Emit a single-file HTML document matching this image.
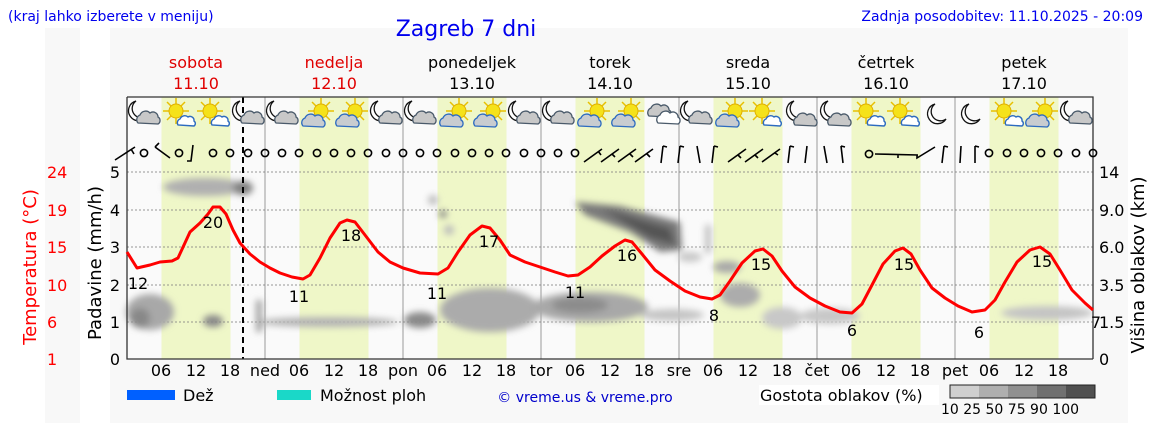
<!DOCTYPE html>
<html><head><meta charset="utf-8"><style>
html,body{margin:0;padding:0;background:#fff;}
svg{display:block;font-family:"DejaVu Sans","Liberation Sans",sans-serif;}
</style></head><body>
<svg width="1152" height="443" viewBox="0 0 1152 443" xmlns="http://www.w3.org/2000/svg">
<defs>
<filter id="bl" x="-30%" y="-60%" width="160%" height="220%"><feGaussianBlur stdDeviation="3.5"/></filter>
<g id="moon"><path d="M-3,-10 A10,10 0 1,0 8,5 A8,8 0 1,1 -3,-10 Z" fill="#fff" stroke="#111" stroke-width="1.3"/></g>
<g id="gcloud"><path d="M-10,5 a5,5 0 0,1 2,-8 a6,6 0 0,1 10,-2 a5,5 0 0,1 8,4 a4,4 0 0,1 0,7 z" fill="#c8c8c8" stroke="#4a5a6a" stroke-width="1.3"/></g>
<g id="wcloud"><path d="M-8,4 a4,4 0 0,1 2,-6 a5,5 0 0,1 8,-2 a4,4 0 0,1 6,4 a3,3 0 0,1 0,5 z" fill="#fff" stroke="#2d6bc0" stroke-width="1.4"/></g>
<g id="bcloud"><path d="M-10,5 a5,5 0 0,1 2,-8 a6,6 0 0,1 10,-2 a5,5 0 0,1 8,4 a4,4 0 0,1 0,7 z" fill="#c8ccd0" stroke="#2d6bc0" stroke-width="1.3"/></g>
<g id="sun"><g stroke="#e8c000" stroke-width="1.5"><line x1="-13" y1="0" x2="13" y2="0"/><line x1="0" y1="-13" x2="0" y2="13"/><line x1="-9" y1="-9" x2="9" y2="9"/><line x1="-9" y1="9" x2="9" y2="-9"/></g><circle r="7" fill="#f5e21a" stroke="#e0b000"/></g>
<g id="iM"><use href="#moon" x="-5" y="-3"/><use href="#gcloud" x="4" y="4"/></g>
<g id="iMs"><use href="#moon" x="-3" y="-3"/><use href="#gcloud" x="5" y="6"/></g>
<g id="iMo"><use href="#moon" x="0" y="0"/></g>
<g id="iS"><use href="#sun" x="-3" y="-3"/><use href="#wcloud" x="7" y="7"/></g>
<g id="iSC"><use href="#sun" x="4" y="-3"/><use href="#bcloud" x="-4" y="7"/></g>
<g id="iC"><use href="#gcloud" x="-3" y="-3"/><path d="M-8,9 a5,5 0 0,1 2,-8 a6,6 0 0,1 10,-2 a5,5 0 0,1 8,4 a4,4 0 0,1 0,7 z" fill="#fff" stroke="#4a5a6a" stroke-width="1.3" transform="translate(4,0)"/></g>
<circle id="wc" r="3.6" fill="none" stroke="#000" stroke-width="1.6"/>
</defs>

<rect x="45" y="28" width="35" height="395" fill="#f8f8f8"/>
<rect x="110" y="28" width="1018" height="395" fill="#f8f8f8"/>

<text x="8" y="21" font-size="14" fill="#0000ee">(kraj lahko izberete v meniju)</text>
<text x="466" y="36" font-size="22" fill="#0000ee" text-anchor="middle">Zagreb 7 dni</text>
<text x="1143" y="21" font-size="14" fill="#0000ee" text-anchor="end">Zadnja posodobitev: 11.10.2025 - 20:09</text>

<g font-size="16" text-anchor="middle">
<text x="196" y="68" fill="#e00000">sobota</text><text x="196" y="89" fill="#e00000">11.10</text>
<text x="334" y="68" fill="#e00000">nedelja</text><text x="334" y="89" fill="#e00000">12.10</text>
<text x="472" y="68">ponedeljek</text><text x="472" y="89">13.10</text>
<text x="610" y="68">torek</text><text x="610" y="89">14.10</text>
<text x="748" y="68">sreda</text><text x="748" y="89">15.10</text>
<text x="886" y="68">četrtek</text><text x="886" y="89">16.10</text>
<text x="1024" y="68">petek</text><text x="1024" y="89">17.10</text>
</g>

<rect x="127" y="97" width="966" height="262" fill="#fafafa"/>
<g fill="#eff7c8">
<rect x="161.5" y="97" width="69" height="262"/><rect x="299.5" y="97" width="69" height="262"/>
<rect x="437.5" y="97" width="69" height="262"/><rect x="575.5" y="97" width="69" height="262"/>
<rect x="713.5" y="97" width="69" height="262"/><rect x="851.5" y="97" width="69" height="262"/>
<rect x="989.5" y="97" width="69" height="262"/>
</g>
<g stroke="#999" stroke-width="1">
<line x1="265" y1="97" x2="265" y2="359"/><line x1="403" y1="97" x2="403" y2="359"/>
<line x1="541" y1="97" x2="541" y2="359"/><line x1="679" y1="97" x2="679" y2="359"/>
<line x1="817" y1="97" x2="817" y2="359"/><line x1="955" y1="97" x2="955" y2="359"/>
</g>
<g stroke="#777" stroke-width="0.8" stroke-dasharray="2,2">
<line x1="127" y1="172" x2="1093" y2="172"/><line x1="127" y1="210" x2="1093" y2="210"/>
<line x1="127" y1="247" x2="1093" y2="247"/><line x1="127" y1="285" x2="1093" y2="285"/>
<line x1="127" y1="322" x2="1093" y2="322"/>
</g>

<g filter="url(#bl)">
<ellipse cx="205" cy="187" rx="42" ry="9" fill="#b0b0b0"/>
<ellipse cx="243" cy="188" rx="10" ry="7" fill="#808080"/>
<ellipse cx="150" cy="312" rx="24" ry="18" fill="#a8a8a8"/>
<ellipse cx="140" cy="318" rx="10" ry="10" fill="#888"/>
<ellipse cx="213" cy="321" rx="10" ry="6" fill="#888"/>
<ellipse cx="328" cy="322" rx="70" ry="5" fill="#b4b4b4"/>
<rect x="256" y="300" width="6" height="32" fill="#a0a0a0"/>
<ellipse cx="420" cy="320" rx="16" ry="8" fill="#8a8a8a"/>
<ellipse cx="490" cy="310" rx="50" ry="22" fill="#ababab"/>
<ellipse cx="590" cy="307" rx="58" ry="15" fill="#a8a8a8"/>
<ellipse cx="580" cy="305" rx="28" ry="8" fill="#8c8c8c"/>
<ellipse cx="672" cy="315" rx="32" ry="6" fill="#c4c4c4"/>
<ellipse cx="433" cy="200" rx="5" ry="5" fill="#bbb"/>
<ellipse cx="443" cy="214" rx="4" ry="4" fill="#888"/>
<ellipse cx="449" cy="230" rx="5" ry="5" fill="#bbb"/>
<path d="M575,202 L620,206 L680,222 L682,250 L660,252 L630,232 L585,215 Z" fill="#7a7a7a"/>
<path d="M600,208 L670,228 L675,245 L650,238 Z" fill="#555"/>
<ellipse cx="690" cy="257" rx="12" ry="5" fill="#c8c8c8"/>
<rect x="705" y="225" width="6" height="28" fill="#c0c0c0"/>
<ellipse cx="727" cy="267" rx="14" ry="6" fill="#a8a8a8"/>
<ellipse cx="740" cy="295" rx="20" ry="12" fill="#acacac"/>
<ellipse cx="782" cy="318" rx="20" ry="11" fill="#c8c8c8"/>
<ellipse cx="830" cy="316" rx="30" ry="8" fill="#c8c8c8"/>
<ellipse cx="1047" cy="313" rx="46" ry="7" fill="#c4c4c4"/>
</g>
<line x1="243" y1="97" x2="243" y2="359" stroke="#000" stroke-width="2" stroke-dasharray="6,4"/>

<path d="M127,97 L1093,97 L1093,359 M127,97 L127,359 L1093,359" fill="none" stroke="#333" stroke-width="1.3"/>

<polyline fill="none" stroke="#f00" stroke-width="3" stroke-linejoin="round" points="127,252 137,268 150,265 160,262 172,261 178,258 190,232 200,223 208,214 213,207 220,207 226,214 233,230 240,243 250,254 260,262 270,268 280,273 292,277 303,279 310,275 320,258 330,238 340,223 347,220 355,222 365,235 378,252 390,262 403,268 420,273 438,274 448,268 458,252 470,235 482,226 490,228 500,240 510,255 525,262 540,267 555,272 568,276 578,275 590,267 602,256 615,246 625,240 632,242 642,254 655,270 670,281 685,291 700,297 712,299 720,295 730,281 742,263 755,251 763,249 772,256 782,271 795,287 810,298 825,306 840,312 852,313 862,304 872,285 883,264 895,251 903,248 911,254 920,270 932,288 945,298 958,306 972,312 985,310 995,300 1005,282 1017,262 1030,250 1040,247 1050,254 1060,270 1072,290 1085,303 1093,310"/>
<g font-size="16" fill="#000" text-anchor="middle">
<text x="138" y="289">12</text><text x="213" y="228">20</text><text x="299" y="302">11</text><text x="351" y="241">18</text>
<text x="437" y="299">11</text><text x="489" y="247">17</text><text x="575" y="298">11</text><text x="627" y="261">16</text>
<text x="714" y="321">8</text><text x="761" y="270">15</text><text x="852" y="336">6</text><text x="904" y="270">15</text>
<text x="979" y="338">6</text><text x="1042" y="267">15</text><text x="1096" y="328">7</text>
</g>

<use href="#iM" x="144" y="114"/><use href="#iS" x="179" y="114"/><use href="#iS" x="213" y="114"/><use href="#iM" x="248" y="114"/>
<use href="#iM" x="282" y="114"/><use href="#iSC" x="317" y="114"/><use href="#iSC" x="351" y="114"/><use href="#iM" x="386" y="114"/>
<use href="#iM" x="420" y="114"/><use href="#iSC" x="455" y="114"/><use href="#iSC" x="489" y="114"/><use href="#iM" x="524" y="114"/>
<use href="#iM" x="558" y="114"/><use href="#iSC" x="593" y="114"/><use href="#iSC" x="627" y="114"/><use href="#iC" x="662" y="114"/>
<use href="#iM" x="696" y="114"/><use href="#iSC" x="731" y="114"/><use href="#iS" x="765" y="114"/><use href="#iMs" x="800" y="114"/>
<use href="#iMs" x="834" y="114"/><use href="#iS" x="869" y="114"/><use href="#iS" x="903" y="114"/><use href="#iMo" x="938" y="114"/>
<use href="#iMo" x="972" y="114"/><use href="#iS" x="1007" y="114"/><use href="#iSC" x="1041" y="114"/><use href="#iM" x="1076" y="114"/>

<g stroke="#000" stroke-width="1.6" fill="none">
<path d="M115,160 L135,147 M131,149 L134,154"/>
<path d="M155,147 L170,158 M155,147 L159,143"/>
<path d="M193,145 L191,161 L187,161"/>
<path d="M584,162 L602,149 M598,151 L601,155"/><path d="M601,162 L619,149 M612,154 L615,157"/><path d="M618,162 L636,149 M630,154 L633,157"/><path d="M635,162 L653,149 M647,154 L650,157"/>
<path d="M663,146 L661,163 M663,146 L667,147"/><path d="M680,146 L678,163 M680,146 L684,147"/><path d="M697,146 L700,163"/><path d="M714,146 L712,163 M714,146 L718,147"/>
<path d="M728,162 L746,149 M738,155 L741,158"/><path d="M745,162 L763,149 M755,155 L758,158"/><path d="M762,162 L780,149 M775,153 L778,155"/>
<path d="M790,146 L788,163 M790,146 L794,147"/><path d="M807,146 L805,163"/><path d="M824,146 L827,163"/><path d="M841,146 L843,163 M841,146 L845,147"/>
<path d="M875,154 L918,155 M898,155 L898,158 M917,155 L917,158 L935,147"/>
<path d="M944,146 L942,163 M944,146 L948,147"/><path d="M961,146 L960,163"/><path d="M975,146 L975,163 M975,146 L979,147"/>
</g>
<g>
<use href="#wc" x="144" y="153"/><use href="#wc" x="179" y="153"/><use href="#wc" x="213" y="153"/><use href="#wc" x="230" y="153"/>
<use href="#wc" x="248" y="153"/><use href="#wc" x="265" y="153"/><use href="#wc" x="282" y="153"/><use href="#wc" x="299" y="153"/><use href="#wc" x="317" y="153"/><use href="#wc" x="334" y="153"/><use href="#wc" x="351" y="153"/><use href="#wc" x="368" y="153"/><use href="#wc" x="386" y="153"/><use href="#wc" x="403" y="153"/>
<use href="#wc" x="420" y="153"/><use href="#wc" x="437" y="153"/><use href="#wc" x="455" y="153"/><use href="#wc" x="472" y="153"/><use href="#wc" x="489" y="153"/><use href="#wc" x="506" y="153"/><use href="#wc" x="524" y="153"/><use href="#wc" x="541" y="153"/><use href="#wc" x="558" y="153"/><use href="#wc" x="575" y="153"/>
<use href="#wc" x="869" y="154"/>
<use href="#wc" x="989" y="153"/><use href="#wc" x="1007" y="153"/><use href="#wc" x="1024" y="153"/><use href="#wc" x="1041" y="153"/><use href="#wc" x="1058" y="153"/><use href="#wc" x="1076" y="153"/><use href="#wc" x="1093" y="153"/>
</g>

<g font-size="16" text-anchor="end">
<text x="120" y="178">5</text><text x="120" y="216">4</text><text x="120" y="253">3</text><text x="120" y="291">2</text><text x="120" y="328">1</text><text x="120" y="365">0</text>
</g>
<g font-size="16" fill="#f00">
<text x="47" y="178">24</text><text x="47" y="216">19</text><text x="47" y="253">15</text><text x="47" y="291">10</text><text x="47" y="328">6</text><text x="47" y="365">1</text>
</g>
<g font-size="16">
<text x="1099" y="178">14</text><text x="1099" y="216">9.0</text><text x="1099" y="253">6.0</text><text x="1099" y="291">3.5</text><text x="1099" y="328">1.5</text><text x="1099" y="365">0</text>
</g>
<text transform="translate(101,263) rotate(-90)" font-size="18" text-anchor="middle">Padavine (mm/h)</text>
<text transform="translate(36,267) rotate(-90)" font-size="18" fill="#f00" text-anchor="middle">Temperatura (°C)</text>
<text transform="translate(1144,265) rotate(-90)" font-size="18" text-anchor="middle">Višina oblakov (km)</text>

<g font-size="16" text-anchor="middle">
<text x="161" y="376">06</text><text x="196" y="376">12</text><text x="230" y="376">18</text><text x="265" y="376">ned</text>
<text x="299" y="376">06</text><text x="334" y="376">12</text><text x="368" y="376">18</text><text x="403" y="376">pon</text>
<text x="437" y="376">06</text><text x="472" y="376">12</text><text x="506" y="376">18</text><text x="541" y="376">tor</text>
<text x="575" y="376">06</text><text x="610" y="376">12</text><text x="644" y="376">18</text><text x="679" y="376">sre</text>
<text x="713" y="376">06</text><text x="748" y="376">12</text><text x="782" y="376">18</text><text x="817" y="376">čet</text>
<text x="851" y="376">06</text><text x="886" y="376">12</text><text x="920" y="376">18</text><text x="955" y="376">pet</text>
<text x="989" y="376">06</text><text x="1024" y="376">12</text><text x="1058" y="376">18</text>
</g>

<rect x="127" y="390" width="48" height="10" fill="#0060ff"/>
<text x="183" y="401" font-size="16">Dež</text>
<rect x="277" y="390" width="34" height="10" fill="#1ad8c8"/>
<text x="320" y="401" font-size="16">Možnost ploh</text>
<text x="585" y="402" font-size="14" fill="#0000cc" text-anchor="middle">© vreme.us &amp; vreme.pro</text>
<rect x="759" y="385" width="180" height="20" fill="#fff"/>
<text x="760" y="401" font-size="16">Gostota oblakov (%)</text>
<rect x="950" y="385" width="29" height="13" fill="#cfcfcf"/><rect x="979" y="385" width="29" height="13" fill="#afafaf"/>
<rect x="1008" y="385" width="29" height="13" fill="#909090"/><rect x="1037" y="385" width="29" height="13" fill="#707070"/>
<rect x="1066" y="385" width="29" height="13" fill="#505050"/>
<rect x="950" y="385" width="145" height="13" fill="none" stroke="#222"/>
<text x="941" y="414" font-size="14">10 25 50 75 90 100</text>
</svg>
</body></html>
